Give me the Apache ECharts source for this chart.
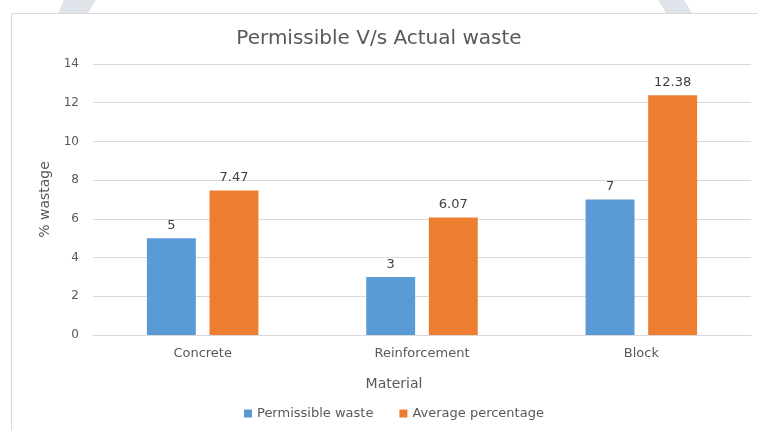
<!DOCTYPE html>
<html>
<head>
<meta charset="utf-8">
<script src="https://cdn.jsdelivr.net/npm/echarts@6/dist/echarts.min.js"></script>
<style>
  html, body { margin: 0; padding: 0; background: #fff; }
  #chart { width: 758px; height: 430px; }
</style>
</head>
<body>
<div id="chart"></div>
<script>
// data
const categories = ['Concrete', 'Reinforcement', 'Block'];
const permissible = [5, 3, 7];
const actual = [7.47, 6.07, 12.38];
const seriesNames = ['Permissible waste', 'Average percentage'];

const font = '"DejaVu Sans", sans-serif';
const grey = '#595959';

const chart = echarts.init(document.getElementById('chart'));
chart.setOption({
  animation: false,
  textStyle: { fontFamily: font },
  // page frame and the grey shapes peeking in at the top
  graphic: [
    { type: 'polygon', shape: { points: [[64, 0], [96, 0], [88, 13], [58, 13]] }, style: { fill: '#dfe4ea' } },
    { type: 'polygon', shape: { points: [[658, 0], [684, 0], [692, 13], [666, 13]] }, style: { fill: '#dfe4ea' } },
    { type: 'polyline', shape: { points: [[11.5, 430], [11.5, 13.5], [758, 13.5]] }, style: { stroke: '#d9d9d9', lineWidth: 1, fill: null } }
  ],
  title: {
    text: 'Permissible V/s Actual waste',
    left: 'center',
    top: 24,
    textStyle: { fontFamily: font, fontSize: 20, fontWeight: 'normal', color: grey }
  },
  legend: {
    bottom: 5,
    left: 239,
    itemWidth: 8,
    itemHeight: 8,
    itemGap: 26,
    icon: 'rect',
    textStyle: { fontFamily: font, fontSize: 13, color: grey }
  },
  grid: { left: 93, right: 7, top: 64, bottom: 95 },
  xAxis: {
    type: 'category',
    data: categories,
    name: 'Material',
    nameLocation: 'middle',
    nameGap: 42,
    // the title sits centred on the whole frame, not the plot, so nudge it left
    nameTextStyle: { fontFamily: font, fontSize: 14, color: grey, padding: [0, 56, 0, 0] },
    axisLine: { lineStyle: { color: '#d9d9d9' } },
    axisTick: { show: false },
    axisLabel: { fontFamily: font, fontSize: 13, color: grey, margin: 12 }
  },
  yAxis: {
    type: 'value',
    min: 0,
    max: 14,
    interval: 2,
    name: '% wastage',
    nameLocation: 'middle',
    nameGap: 41,
    nameTextStyle: { fontFamily: font, fontSize: 14, color: grey },
    axisLine: { show: false },
    axisTick: { show: false },
    axisLabel: { fontFamily: font, fontSize: 12, color: grey, margin: 14 },
    splitLine: { lineStyle: { color: '#d9d9d9' } }
  },
  series: [
    {
      name: seriesNames[0],
      type: 'bar',
      data: permissible,
      barWidth: '22.3%',
      barGap: '28%',
      itemStyle: { color: '#5b9bd5' },
      label: { show: true, position: 'top', distance: 6, fontFamily: font, fontSize: 13, color: '#404040' }
    },
    {
      name: seriesNames[1],
      type: 'bar',
      data: actual,
      barWidth: '22.3%',
      itemStyle: { color: '#ed7d31' },
      label: { show: true, position: 'top', distance: 6, fontFamily: font, fontSize: 13, color: '#404040' }
    }
  ]
});
</script>
</body>
</html>
